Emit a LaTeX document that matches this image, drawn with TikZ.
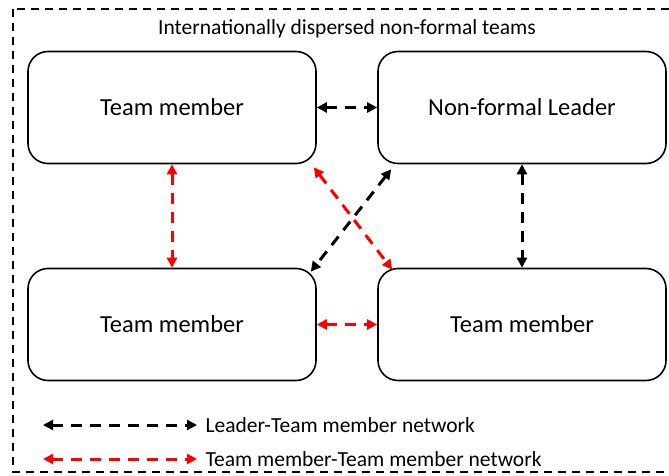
\documentclass[tikz,border=0pt]{standalone}
\usepackage{fontspec}
\setmainfont{Carlito}
\usetikzlibrary{arrows.meta,calc}

\begin{document}
\begin{tikzpicture}[
		x=1pt, y=-1pt,
		teambox/.style={rectangle, draw, rounded corners=20pt, line width=1.6pt,
			minimum width=288pt, minimum height=112pt, font=\fontsize{24.5}{28}\selectfont},
		netarrow/.style={{Triangle[length=10pt,width=10pt]}-{Triangle[length=10pt,width=10pt]},
			line width=3pt, dash pattern=on 11pt off 8pt},
		leadnet/.style={netarrow, black},
		membnet/.style={netarrow, red}
	]
  \useasboundingbox (0,0) rectangle (669,476);
  \draw [line width=1.3pt, dash pattern=on 8pt off 6pt] (13,9) rectangle (690,472);
  \node (title) [font=\fontsize{21.5}{24}\selectfont] at (347,29) {Internationally dispersed non-formal teams};
  \node (tm_a) [teambox] at (172,107.5) {Team member};
  \node (lead) [teambox] at (522,107.5) {Non-formal Leader};
  \node (tm_b) [teambox] at (172,324.5) {Team member};
  \node (tm_c) [teambox] at (522,324.5) {Team member};
  \draw [leadnet] (tm_a.east) -- (lead.west);
  \draw [leadnet] (lead.south) -- (tm_c.north);
  \draw [leadnet] ($(lead.south west)+(14,5)$) -- ($(tm_b.north east)+(-6,4)$);
  \draw [membnet] (tm_a.south) -- (tm_b.north);
  \draw [membnet] (tm_b.east) -- (tm_c.west);
  \draw [membnet] ($(tm_a.south east)+(-3,3)$) -- ($(tm_c.north west)+(15,2)$);
  % legend
  \coordinate (l1a) at (43,425);
  \coordinate (l1b) at (197,425);
  \coordinate (l2a) at (43,459);
  \coordinate (l2b) at (197,459);
  \draw [leadnet] (l1a) -- (l1b);
  \draw [membnet] (l2a) -- (l2b);
  \node (l1text) [anchor=west, font=\fontsize{21.5}{24}\selectfont] at (202,425) {Leader-Team member network};
  \node (l2text) [anchor=west, font=\fontsize{21.5}{24}\selectfont] at (202,459) {Team member-Team member network};
\end{tikzpicture}
\end{document}
